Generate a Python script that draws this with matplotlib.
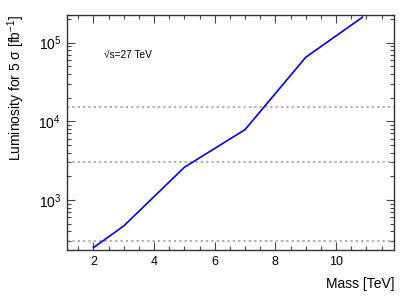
import numpy as np
import matplotlib
matplotlib.use("Agg")
import matplotlib.pyplot as plt
from matplotlib.ticker import MultipleLocator, LogLocator, NullFormatter

plt.rcParams['font.family'] = ['Liberation Sans', 'DejaVu Sans']
plt.rcParams['mathtext.fontset'] = 'custom'
plt.rcParams['mathtext.rm'] = 'Liberation Sans'
plt.rcParams['mathtext.it'] = 'Liberation Sans:italic'
plt.rcParams['mathtext.default'] = 'regular'

# Data
mass = [2.0, 3.0, 5.0, 7.0, 9.0, 10.87]
lumi = [247, 467, 2600, 7830, 65000, 210000]
ref_lumi = [300, 3000, 15000]

fig = plt.figure(figsize=(4.15, 2.99), dpi=100)
ax = fig.add_axes([0.1607, 0.1639, 0.9494 - 0.1607, 0.9498 - 0.1639])

for r in ref_lumi:
    ax.axhline(r, color='#999999', linestyle=(0, (1.5, 2)), linewidth=1.1)
ax.plot(mass, lumi, color='#0000ff', linewidth=1.2)

ax.set_yscale('log')
ax.set_xlim(1.12, 11.91)
ax.set_ylim(231, 2.24e5)

ax.xaxis.set_major_locator(MultipleLocator(2))
ax.xaxis.set_minor_locator(MultipleLocator(0.5))
ax.yaxis.set_major_locator(LogLocator(base=10))
ax.yaxis.set_minor_locator(LogLocator(base=10, subs=np.arange(2, 10)))
ax.yaxis.set_minor_formatter(NullFormatter())

ax.tick_params(which='both', direction='in', top=True, right=True,
               width=0.8, color='#444444')
ax.tick_params(axis='x', labelsize=9)
ax.tick_params(axis='y', labelsize=10)
ax.tick_params(which='major', length=6, pad=4)
ax.tick_params(which='minor', length=3)
for s in ax.spines.values():
    s.set_linewidth(1.0)
    s.set_color('#333333')

ax.set_xlabel('Mass [TeV]', fontsize=10, loc='right')
ax.set_ylabel('Luminosity for 5 σ [fb$^{-1}$]', fontsize=10, loc='top')
ax.xaxis.set_label_coords(1.0, -0.115)
ax.yaxis.set_label_coords(-0.121, 1.0)

ax.text(0.114, 0.83, '√s=27 TeV', transform=ax.transAxes, fontsize=7.3,
        va='center', ha='left')

fig.savefig('out.png', dpi=100)
